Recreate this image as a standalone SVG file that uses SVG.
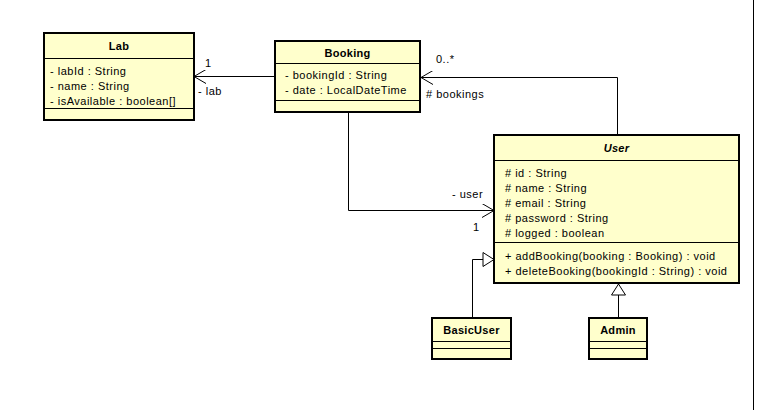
<svg xmlns="http://www.w3.org/2000/svg" width="770" height="413" viewBox="0 0 770 413">
<style>
.box{fill:#ffffcc;stroke:#000;stroke-width:2}
.sep{stroke:#000;stroke-width:1}
text{font-family:"Liberation Sans",Arial,sans-serif;font-size:11px;fill:#000;letter-spacing:0.5px}
.t{font-weight:bold;text-anchor:middle;letter-spacing:0.3px}
.ti{font-weight:bold;font-style:italic;text-anchor:middle;letter-spacing:0.3px}
.ln{fill:none;stroke:#000;stroke-width:1}
</style>
<defs>
<marker id="open" markerWidth="14" markerHeight="14" refX="12" refY="7" orient="auto" markerUnits="userSpaceOnUse">
<path d="M0,0 L12,7 L0,14" fill="none" stroke="#000" stroke-width="1"/>
</marker>
<marker id="gen" markerWidth="14" markerHeight="16" refX="12" refY="8" orient="auto" markerUnits="userSpaceOnUse">
<path d="M1,1 L12,8 L1,15 Z" fill="#fff" stroke="#000" stroke-width="1"/>
</marker>
</defs>
<rect x="0" y="0" width="770" height="413" fill="#fff"/>
<line x1="753.5" y1="0" x2="753.5" y2="410" stroke="#000" stroke-width="1"/>

<g id="connectors">
<line class="ln" x1="275" y1="76.5" x2="194" y2="76.5" marker-end="url(#open)"/>
<text x="205" y="67">1</text>
<text x="198" y="95">- lab</text>
<polyline class="ln" points="617.5,135 617.5,77.5 421,77.5" marker-end="url(#open)"/>
<text x="436" y="63">0..*</text>
<text x="426" y="98"># bookings</text>
<polyline class="ln" points="348.5,112 348.5,210.5 494,210.5" marker-end="url(#open)"/>
<text x="452" y="198">- user</text>
<text x="473" y="231">1</text>
<polyline class="ln" points="472.5,318 472.5,259.5 494,259.5" marker-end="url(#gen)"/>
<line class="ln" x1="618.5" y1="318" x2="618.5" y2="284" marker-end="url(#gen)"/>
</g>

<g id="Lab">
<rect class="box" x="44" y="33" width="150" height="87"/>
<line class="sep" x1="44" y1="58.5" x2="194" y2="58.5"/>
<line class="sep" x1="44" y1="108.5" x2="194" y2="108.5"/>
<text class="t" x="119" y="50">Lab</text>
<text x="50" y="75">- labId : String</text>
<text x="50" y="90">- name : String</text>
<text x="50" y="105">- isAvailable : boolean[]</text>
</g>

<g id="Booking">
<rect class="box" x="275" y="41" width="145" height="71"/>
<line class="sep" x1="275" y1="63.5" x2="420" y2="63.5"/>
<line class="sep" x1="275" y1="100.5" x2="420" y2="100.5"/>
<text class="t" x="347.5" y="57">Booking</text>
<text x="285" y="79">- bookingId : String</text>
<text x="285" y="94">- date : LocalDateTime</text>
</g>

<g id="User">
<rect class="box" x="494" y="135" width="245" height="148"/>
<line class="sep" x1="494" y1="160.5" x2="739" y2="160.5"/>
<line class="sep" x1="494" y1="242.5" x2="739" y2="242.5"/>
<text class="ti" x="616.5" y="152">User</text>
<text x="505" y="177"># id : String</text>
<text x="505" y="192"># name : String</text>
<text x="505" y="207"># email : String</text>
<text x="505" y="222"># password : String</text>
<text x="505" y="237"># logged : boolean</text>
<text x="505" y="260">+ addBooking(booking : Booking) : void</text>
<text x="505" y="275">+ deleteBooking(bookingId : String) : void</text>
</g>

<g id="BasicUser">
<rect class="box" x="432" y="318" width="79" height="41"/>
<line class="sep" x1="432" y1="341.5" x2="511" y2="341.5"/>
<line class="sep" x1="432" y1="348.5" x2="511" y2="348.5"/>
<text class="t" x="471.5" y="334">BasicUser</text>
</g>

<g id="Admin">
<rect class="box" x="589" y="318" width="58" height="41"/>
<line class="sep" x1="589" y1="341.5" x2="647" y2="341.5"/>
<line class="sep" x1="589" y1="348.5" x2="647" y2="348.5"/>
<text class="t" x="618" y="334">Admin</text>
</g>
</svg>
